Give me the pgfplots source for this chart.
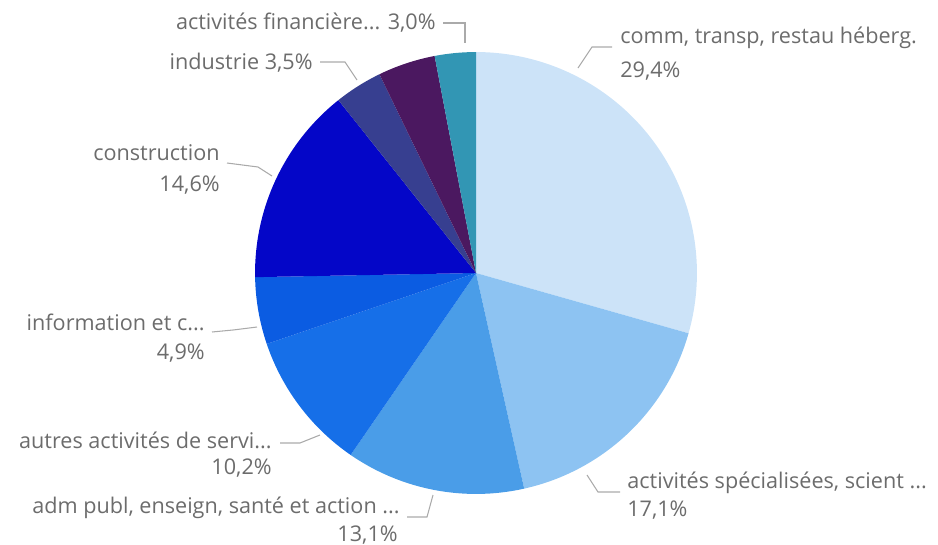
\documentclass[border=0pt]{standalone}
\usepackage{pgfplots}
\pgfplotsset{compat=1.18}
\usepackage{pgfplotstable}
\usepackage{fontspec}
\setmainfont{Open Sans}

\definecolor{c1}{RGB}{204,227,248}
\definecolor{c2}{RGB}{141,195,242}
\definecolor{c3}{RGB}{74,157,232}
\definecolor{c4}{RGB}{22,111,232}
\definecolor{c5}{RGB}{11,92,226}
\definecolor{c6}{RGB}{4,6,200}
\definecolor{c7}{RGB}{55,63,144}
\definecolor{c8}{RGB}{75,24,96}
\definecolor{c9}{RGB}{50,150,180}
\definecolor{lbl}{RGB}{108,108,108}
\definecolor{lead}{RGB}{170,170,170}

% share of each sector, clockwise from 12 o'clock
\pgfplotstableread{
share col
29.4 c1
17.1 c2
13.1 c3
10.2 c4
4.9  c5
14.6 c6
3.5  c7
4.2  c8
3.0  c9
}\shares

\tikzset{
  lab/.style={font=\fontsize{12.3}{14}\selectfont, text=lbl, inner sep=0pt},
  ll/.style={draw=lead, line width=0.6pt},
}

\begin{document}
\begin{tikzpicture}
\begin{axis}[
    x=0.02cm, y=0.02cm,
    xmin=0, xmax=938, ymin=0, ymax=545,
    y dir=reverse,
    hide axis, clip=false,
]
\path (axis cs:0,0) rectangle (axis cs:938,545);

\def\cum{0}
\pgfplotsforeachungrouped \i in {0,...,8}{%
  \pgfplotstablegetelem{\i}{share}\of\shares \let\v\pgfplotsretval
  \pgfplotstablegetelem{\i}{col}\of\shares \let\c\pgfplotsretval
  \pgfmathsetmacro\a{90-3.6*\cum}%
  \pgfmathsetmacro\b{90-3.6*(\cum+\v)}%
  \pgfmathsetmacro\cum{\cum+\v}%
  \edef\cmd{\noexpand\fill[\c] (axis cs:476,273) -- ++(\a:4.42cm)
    arc[start angle=\a, end angle=\b, radius=4.42cm] -- cycle;}%
  \cmd
}

% leader lines
\draw[ll] (axis cs:612,47) -- (axis cs:592,47) -- (axis cs:578,68);
\draw[ll] (axis cs:620,492) -- (axis cs:598,492) -- (axis cs:587,475);
\draw[ll] (axis cs:407,517) -- (axis cs:427,517) -- (axis cs:433,495);
\draw[ll] (axis cs:280,443) -- (axis cs:300,443) -- (axis cs:320,435);
\draw[ll] (axis cs:212,332) -- (axis cs:233,330) -- (axis cs:257,327);
\draw[ll] (axis cs:227,163) -- (axis cs:258,167) -- (axis cs:272,176);
\draw[ll] (axis cs:320,62) -- (axis cs:345,62) -- (axis cs:357,80);
\draw[ll] (axis cs:443,23) -- (axis cs:465,23) -- (axis cs:465,43);

% labels
\node[lab, anchor=west] at (axis cs:620,38) {comm, transp, restau héberg.};
\node[lab, anchor=west] at (axis cs:620,71) {29,4\%};
\node[lab, anchor=west] at (axis cs:627,483) {activités spécialisées, scient ...};
\node[lab, anchor=west] at (axis cs:627,510) {17,1\%};
\node[lab, anchor=east] at (axis cs:400,508) {adm publ, enseign, santé et action ...};
\node[lab, anchor=east] at (axis cs:398,535) {13,1\%};
\node[lab, anchor=east] at (axis cs:272,440) {autres activités de servi...};
\node[lab, anchor=east] at (axis cs:272,468) {10,2\%};
\node[lab, anchor=east] at (axis cs:205,322) {information et c...};
\node[lab, anchor=east] at (axis cs:205,353) {4,9\%};
\node[lab, anchor=east] at (axis cs:220,153) {construction};
\node[lab, anchor=east] at (axis cs:220,185) {14,6\%};
\node[lab, anchor=east] at (axis cs:313,63) {industrie 3,5\%};
\node[lab, anchor=east] at (axis cs:436,23) {activités financière... 3,0\%};
\end{axis}
\end{tikzpicture}
\end{document}
